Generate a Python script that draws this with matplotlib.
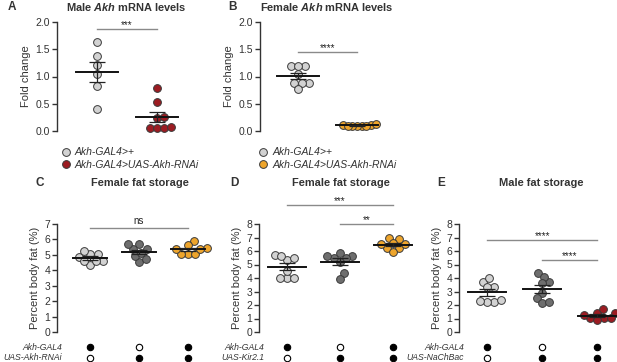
import numpy as np
import matplotlib
matplotlib.use("Agg")
from matplotlib import pyplot as plt
from matplotlib.lines import Line2D
import matplotlib.transforms as mtransforms

plt.rcParams['font.family'] = ['Liberation Sans', 'DejaVu Sans']
plt.rcParams['mathtext.fontset'] = 'custom'
plt.rcParams['mathtext.it'] = 'Liberation Sans:italic:bold'
plt.rcParams['mathtext.rm'] = 'Liberation Sans:bold'

# ---- data ----
male_mrna_ctrl = [1.63, 1.37, 1.22, 1.05, 0.82, 0.41]
male_mrna_rnai = [0.78, 0.53, 0.23, 0.26, 0.05, 0.05, 0.05, 0.07]
female_mrna_ctrl = [1.20, 1.20, 1.20, 1.05, 0.88, 0.88, 0.88, 0.77]
female_mrna_rnai = [0.11, 0.10, 0.12, 0.10, 0.09, 0.11, 0.10, 0.10]

c_gal4 = [4.88, 5.05, 4.34, 5.27, 4.62, 4.62, 4.62, 5.05]
c_uas = [5.70, 4.56, 5.36, 5.36, 4.71, 5.70, 4.93, 5.14]
c_both = [5.92, 5.06, 5.64, 5.06, 5.42, 5.06, 5.36, 5.36]

d_gal4 = [5.33, 5.70, 5.50, 5.65, 3.98, 4.52, 4.02, 4.02]
d_uas = [5.65, 5.50, 5.50, 5.83, 5.65, 5.21, 4.35, 3.93]
d_both = [6.99, 6.20, 6.49, 6.89, 6.20, 6.49, 6.57, 5.90]

e_gal4 = [3.73, 3.31, 3.97, 3.31, 2.25, 2.37, 2.25, 2.32]
e_uas = [4.39, 3.73, 4.10, 3.60, 2.87, 2.50, 2.17, 2.25]
e_both = [1.43, 1.43, 1.68, 1.01, 1.01, 0.89, 1.01, 1.26]

legend_labels = ['Akh-GAL4>+', 'Akh-GAL4>UAS-Akh-RNAi']
genotype_rows = {
    'C': ['Akh-GAL4', 'UAS-Akh-RNAi'],
    'D': ['Akh-GAL4', 'UAS-Kir2.1'],
    'E': ['Akh-GAL4', 'UAS-NaChBac'],
}
row_presence = [[1, 0, 1], [0, 1, 1]]

LIGHT = '#d2d2d2'
DARK = '#6e6e6e'
ORANGE = '#eea52c'
RED = '#9c1c22'
EDGE = '#3a3a3a'

W, H = 617, 362
fig = plt.figure(figsize=(W / 100, H / 100), dpi=100)


def px_axes(left, top, right, bottom):
    return fig.add_axes([left / W, 1 - bottom / H, (right - left) / W, (bottom - top) / H])


def fig_text(x, y, s, **kw):
    fig.text(x / W, 1 - y / H, s, **kw)


def style_axis(ax, ylim, ticks, fmt, ylabel):
    ax.set_ylim(*ylim)
    ax.set_yticks(ticks)
    ax.set_yticklabels([fmt.format(t) for t in ticks])
    for s in ['top', 'right', 'bottom']:
        ax.spines[s].set_visible(False)
    ax.spines['left'].set_color('#333333')
    ax.spines['left'].set_linewidth(1.0)
    ax.set_xticks([])
    ax.tick_params(axis='y', length=3.5, width=1.0, color='#333333',
                   labelsize=7.5, labelcolor='#333333', pad=1.5)
    ax.set_ylabel(ylabel, fontsize=8, color='#333333', labelpad=3)
    ax.patch.set_visible(False)


def swarm_offsets(ax, xc, vals, diam_px):
    # simple beeswarm in pixel space
    pts = ax.transData.transform(np.column_stack([np.full(len(vals), xc), vals]))
    ys = pts[:, 1]
    order = np.argsort(ys)
    placed = []
    offs = np.zeros(len(vals))
    for i in order:
        y = ys[i]
        cands = [0.0]
        for px, py in placed:
            dy = y - py
            if abs(dy) < diam_px:
                dx = np.sqrt(diam_px ** 2 - dy ** 2)
                cands += [px + dx, px - dx]
        cands.sort(key=abs)
        for c in cands:
            if all((c - px) ** 2 + (y - py) ** 2 >= diam_px ** 2 - 1e-6 for px, py in placed):
                break
        placed.append((c, y))
        offs[i] = c
    x0 = ax.transData.transform((xc, 0))[0]
    x1 = ax.transData.transform((xc + 1, 0))[0]
    return xc + offs / (x1 - x0)


def group(ax, xc, vals, color, msize=5.6, pack=0.9):
    vals = np.asarray(vals, float)
    xs = swarm_offsets(ax, xc, vals, msize * 1.389 * pack)
    ax.plot(xs, vals, 'o', ms=msize, mfc=color, mec=EDGE, mew=0.7,
            clip_on=False, zorder=3)
    m = vals.mean()
    sem = vals.std(ddof=1) / np.sqrt(len(vals))
    ax.plot([xc - 0.35, xc + 0.35], [m, m], color='#111111', lw=1.4, zorder=4,
            clip_on=False)
    ax.errorbar([xc], [m], yerr=[sem], color='#222222', lw=0.9, capsize=6,
                capthick=0.9, zorder=4, clip_on=False)


def sig(ax, x0, x1, y, label, gap):
    ax.plot([x0, x1], [y, y], color='#8a8a8a', lw=1.0, clip_on=False)
    ax.text((x0 + x1) / 2, y + gap, label, ha='center', va='bottom',
            fontsize=7, color='#222222', clip_on=False)


# ---------- Panel A ----------
axA = px_axes(57, 22, 200, 131)
axA.set_xlim(-0.667, 1.717)
style_axis(axA, (0, 2.0), [0, 0.5, 1.0, 1.5, 2.0], '{:.1f}', 'Fold change')
group(axA, 0, male_mrna_ctrl, LIGHT)
group(axA, 1, male_mrna_rnai, RED)
sig(axA, 0, 1, 1.87, '***', -0.02)
fig_text(126, 7, r'Male $Akh$ mRNA levels', ha='center', va='center',
         fontsize=7.9, fontweight='bold', color='#333333')
fig_text(8, 7, 'A', ha='left', va='center', fontsize=8.5, fontweight='bold',
         color='#333333')

# ---------- Panel B ----------
axB = px_axes(260, 22, 410, 131)
axB.set_xlim(-0.644, 1.9)
style_axis(axB, (0, 2.0), [0, 0.5, 1.0, 1.5, 2.0], '{:.1f}', 'Fold change')
group(axB, 0, female_mrna_ctrl, LIGHT)
group(axB, 1, female_mrna_rnai, ORANGE, pack=0.6)
sig(axB, 0, 1, 1.45, '****', -0.02)
fig_text(327, 7, r'Female $Akh$ mRNA levels', ha='center', va='center',
         fontsize=7.9, fontweight='bold', color='#333333')
fig_text(228, 7, 'B', ha='left', va='center', fontsize=8.5, fontweight='bold',
         color='#333333')

# legends
for ax, col2, xm in [(axA, RED, 65), (axB, ORANGE, 263)]:
    handles = [Line2D([], [], ls='', marker='o', ms=5.6, mfc=LIGHT, mec=EDGE, mew=0.7),
               Line2D([], [], ls='', marker='o', ms=5.6, mfc=col2, mec=EDGE, mew=0.7)]
    leg = fig.legend(handles, legend_labels, loc='upper left',
                     bbox_to_anchor=((xm - 12) / W, 1 - 140 / H),
                     frameon=False, fontsize=7.5, handlelength=1.0,
                     handletextpad=0.4, labelspacing=0.25, borderpad=0.2)
    for t in leg.get_texts():
        t.set_style('italic')
        t.set_color('#333333')

# ---------- Panels C, D, E ----------
panels = [
    ('C', (57, 215), (-0.673, 2.55), 7, [c_gal4, c_uas, c_both],
     [LIGHT, DARK, ORANGE], 140, 36),
    ('D', (259, 415), (-0.528, 2.415), 8, [d_gal4, d_uas, d_both],
     [LIGHT, DARK, ORANGE], 341, 230),
    ('E', (459, 617), (-0.509, 2.36), 8, [e_gal4, e_uas, e_both],
     [LIGHT, DARK, RED], 541, 437),
]
axes = {}
for key, (l, r), xl, ymax, groups, cols, tx, lx in panels:
    ax = px_axes(l, 224, r, 332)
    ax.set_xlim(*xl)
    style_axis(ax, (0, ymax), list(range(ymax + 1)), '{:d}', 'Percent body fat (%)')
    for i, (vals, c) in enumerate(zip(groups, cols)):
        group(ax, i, vals, c)
    fig_text(tx, 183, 'Female fat storage' if key != 'E' else 'Male fat storage',
             ha='center', va='center', fontsize=7.9, fontweight='bold', color='#333333')
    fig_text(lx, 183, key, ha='left', va='center', fontsize=8.5,
             fontweight='bold', color='#333333')
    # genotype table under the axis
    trans = mtransforms.blended_transform_factory(ax.transData, ax.transAxes)
    axw = r - l
    for row, (name, pres) in enumerate(zip(genotype_rows[key], row_presence)):
        yy = (332 - (347 + 11 * row)) / 108
        ax.text(5 / axw, yy, name, transform=ax.transAxes, ha='right',
                va='center', fontsize=6.2, style='italic', color='#333333')
        for i, p in enumerate(pres):
            ax.plot([i], [yy], 'o', transform=trans, ms=4.6,
                    mfc='black' if p else 'white', mec='black', mew=0.8,
                    clip_on=False)
    axes[key] = ax

sig(axes['C'], 0, 2, 6.74, 'ns', 0.12)
sig(axes['D'], 0, 2, 9.4, '***', -0.1)
sig(axes['D'], 1, 2, 8.0, '**', -0.1)
sig(axes['E'], 0, 2, 6.8, '****', -0.1)
sig(axes['E'], 1, 2, 5.33, '****', -0.1)

fig.savefig('out.png', dpi=100)
